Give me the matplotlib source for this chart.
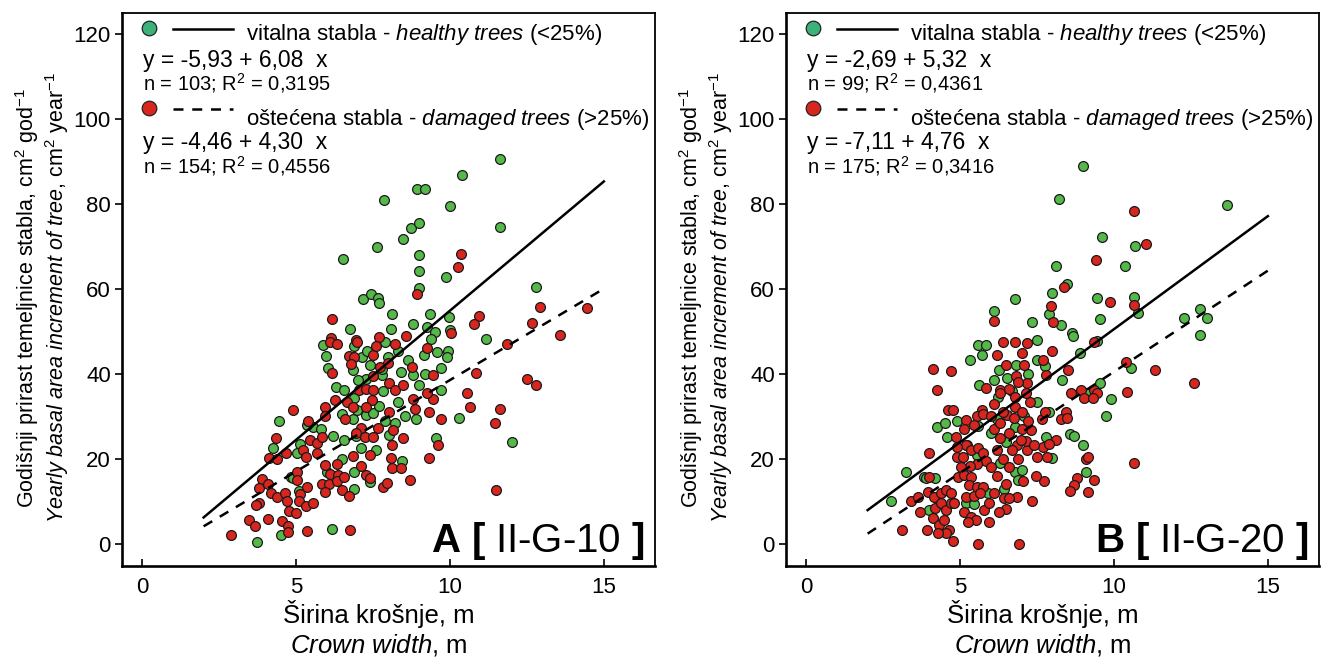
import numpy as np
import matplotlib.pyplot as plt

plt.rcParams['font.family'] = ['Liberation Sans', 'DejaVu Sans']
plt.rcParams['mathtext.fontset'] = 'custom'
plt.rcParams['mathtext.rm'] = 'Liberation Sans'
plt.rcParams['mathtext.it'] = 'Liberation Sans:italic'
plt.rcParams['mathtext.bf'] = 'Liberation Sans:bold'

# ---- data (crown width m, basal area increment cm2/yr) ----
a_healthy = [
    (11.62, 90.6), (10.4, 86.9), (8.94, 83.6), (9.19, 83.6), (10.0, 79.4), (8.72, 74.4),
    (9.0, 75.5), (8.48, 71.8), (11.62, 74.5), (9.0, 68.0), (9.0, 64.3), (9.86, 62.8),
    (9.0, 60.1), (12.79, 60.5), (9.34, 54.2), (9.98, 53.3), (8.81, 51.7), (9.24, 51.0),
    (9.5, 49.9), (10.0, 50.3), (11.17, 48.2), (9.4, 48.2), (7.86, 80.9), (7.64, 69.8),
    (6.54, 67.1), (7.19, 57.6), (7.45, 58.7), (7.67, 57.8), (7.69, 56.6), (8.11, 54.0),
    (6.75, 50.6), (8.08, 50.6), (5.89, 46.8), (5.97, 44.1), (6.03, 41.3), (7.15, 43.9),
    (6.86, 40.8), (6.88, 46.6), (6.3, 37.0), (6.56, 36.2), (6.89, 34.3), (7.81, 35.9),
    (7.78, 39.8), (7.27, 38.8), (7.8, 41.2), (4.44, 28.9), (5.56, 27.5), (6.84, 29.3),
    (6.97, 31.5), (7.29, 30.4), (7.51, 30.7), (6.95, 25.5), (8.01, 25.6), (5.13, 23.5),
    (5.02, 21.3), (6.56, 24.5), (6.48, 19.9), (6.0, 17.0), (6.88, 17.0), (4.83, 15.7),
    (5.1, 12.5), (4.51, 2.1), (3.74, 0.5), (6.16, 3.5), (10.3, 29.6), (12.0, 23.9),
    (9.55, 24.8), (9.72, 36.1), (8.55, 30.1), (8.9, 29.3), (9.72, 41.3), (8.81, 39.8),
    (8.65, 43.3), (9.16, 44.5), (9.57, 45.2), (9.95, 45.5), (9.9, 44.0), (8.43, 19.4),
    (4.26, 22.5), (5.35, 28.0), (4.91, 15.5), (7.3, 45.5), (7.9, 47.5), (8.3, 45.5),
    (8.0, 44.0), (7.4, 42.0), (8.4, 40.5), (7.0, 38.5), (8.3, 33.5), (7.7, 32.5),
    (9.0, 37.5), (9.2, 40.0), (8.2, 28.5), (7.9, 29.0), (7.1, 22.5), (7.6, 22.0),
    (6.2, 25.5), (5.8, 27.0), (6.5, 30.5), (7.4, 14.5), (6.9, 13.0),
]
a_damaged = [
    (8.94, 58.7), (10.36, 68.2), (10.25, 65.1), (12.92, 55.8), (14.46, 55.5), (10.93, 53.6),
    (10.77, 51.8), (12.66, 52.0), (10.05, 49.7), (8.57, 49.0), (13.57, 49.2), (6.17, 53.0),
    (6.13, 48.4), (7.69, 48.6), (6.94, 48.0), (6.1, 47.4), (6.34, 47.1), (6.16, 40.2),
    (6.71, 44.2), (6.9, 43.9), (6.78, 42.4), (6.97, 47.4), (6.26, 33.9), (6.65, 33.5),
    (7.06, 36.2), (7.29, 36.4), (7.51, 36.2), (7.47, 33.9), (8.03, 37.8), (7.51, 39.4),
    (7.73, 41.6), (8.21, 36.2), (8.0, 42.5), (7.5, 44.5), (7.6, 46.5), (8.2, 47.0),
    (4.89, 31.4), (5.94, 32.3), (5.38, 29.0), (5.94, 30.1), (6.6, 29.3), (6.86, 32.3),
    (7.29, 32.3), (8.03, 31.0), (7.67, 27.2), (7.1, 27.2), (6.95, 26.0), (7.23, 25.2),
    (7.49, 25.2), (8.16, 26.7), (8.11, 23.3), (4.35, 24.8), (5.45, 24.5), (5.69, 23.7),
    (5.67, 21.3), (5.84, 25.1), (5.24, 22.1), (5.32, 20.5), (4.11, 20.2), (4.39, 19.9),
    (4.68, 21.3), (6.84, 20.7), (7.4, 20.9), (6.32, 18.8), (5.93, 18.6), (6.1, 16.5),
    (6.36, 16.2), (7.12, 18.4), (7.27, 16.2), (7.42, 15.5), (8.12, 17.8), (8.08, 20.2),
    (5.02, 17.0), (5.02, 15.1), (3.89, 15.2), (3.81, 13.1), (4.1, 14.1), (4.18, 11.9),
    (4.37, 11.0), (4.64, 11.9), (4.72, 10.0), (5.35, 13.5), (5.13, 11.8), (5.09, 10.0),
    (5.32, 8.9), (5.54, 9.6), (5.83, 14.1), (6.08, 14.1), (6.32, 14.7), (6.49, 12.7),
    (6.71, 11.3), (6.56, 15.7), (5.94, 12.3), (7.84, 13.5), (7.95, 14.4), (3.81, 9.7),
    (3.7, 9.2), (4.78, 7.8), (5.0, 7.2), (3.48, 5.6), (3.67, 4.3), (4.08, 5.9),
    (4.53, 5.3), (4.75, 4.2), (4.75, 2.7), (2.88, 2.1), (5.35, 3.1), (6.75, 3.3),
    (10.86, 40.2), (12.49, 38.7), (12.79, 37.4), (10.54, 35.4), (10.65, 32.2), (11.64, 31.7),
    (11.45, 28.4), (9.7, 29.5), (9.61, 23.3), (9.31, 20.1), (8.7, 15.1), (11.51, 12.7),
    (9.46, 34.0), (9.24, 35.6), (8.81, 34.0), (8.85, 31.7), (9.31, 31.1), (9.46, 39.8),
    (8.76, 41.6), (9.24, 46.0), (11.86, 47.1), (8.48, 37.4), (8.46, 24.9), (8.4, 17.8),
]
b_healthy = [
    (9.0, 88.8), (8.21, 81.1), (13.66, 79.8), (9.6, 72.3), (10.67, 70.1), (8.11, 65.3),
    (10.35, 65.3), (8.0, 59.1), (8.48, 61.2), (6.78, 57.6), (9.44, 57.8), (10.65, 58.2),
    (10.78, 54.3), (7.89, 54.1), (8.27, 51.5), (7.35, 52.3), (9.55, 52.9), (12.27, 53.1),
    (12.79, 55.2), (13.03, 53.1), (6.1, 54.7), (12.81, 49.2), (10.54, 41.3), (9.55, 37.8),
    (9.89, 34.0), (9.73, 30.1), (9.1, 35.5), (8.57, 25.9), (8.7, 25.4), (9.0, 23.3),
    (9.08, 17.0), (6.43, 12.9), (6.78, 17.0), (8.0, 20.2), (7.78, 25.2), (7.08, 30.1),
    (7.51, 33.5), (7.51, 48.0), (7.49, 43.3), (7.75, 41.9), (6.81, 42.1), (6.27, 40.8),
    (6.54, 39.0), (6.24, 34.5), (8.65, 49.7), (8.68, 48.8), (9.45, 47.8), (2.75, 10.2),
    (3.24, 17.0), (4.24, 27.6), (4.5, 28.5), (4.91, 29.0), (4.59, 25.2), (3.83, 15.8),
    (3.9, 15.6), (4.2, 15.4), (3.99, 8.0), (5.32, 43.3), (5.58, 46.8), (5.83, 46.8),
    (5.72, 44.5), (5.62, 37.4), (5.6, 27.8), (5.24, 23.3), (5.56, 20.9), (5.19, 9.6),
    (5.45, 9.5), (6.1, 38.5), (6.5, 24.0), (6.8, 27.5), (6.3, 19.0), (7.0, 17.5),
    (6.0, 26.0), (6.7, 36.0), (7.2, 40.0), (6.2, 29.5), (6.9, 15.0), (5.9, 12.0),
    (8.3, 38.5), (8.9, 45.0), (7.9, 31.0),
]
b_damaged = [
    (10.65, 78.4), (11.03, 70.6), (9.43, 66.8), (8.38, 60.5), (9.87, 57.0), (10.65, 56.2),
    (7.96, 56.0), (8.03, 52.3), (6.1, 52.5), (12.6, 37.8), (11.35, 40.8), (10.38, 42.7),
    (10.41, 35.8), (10.65, 19.1), (9.35, 36.2), (9.46, 35.5), (8.94, 36.2), (9.03, 34.3),
    (8.59, 35.6), (9.32, 34.3), (8.43, 31.1), (8.27, 29.3), (8.46, 29.6), (9.08, 19.9),
    (9.15, 20.5), (8.81, 15.5), (8.7, 13.9), (8.57, 12.5), (9.35, 15.1), (9.16, 12.1),
    (7.35, 10.0), (6.92, 0.0), (7.73, 14.7), (7.46, 16.0), (7.06, 14.9), (6.86, 11.1),
    (6.48, 8.2), (6.27, 7.6), (6.43, 10.9), (6.6, 10.7), (7.7, 22.9), (7.83, 20.5),
    (7.51, 20.5), (7.19, 22.1), (7.13, 24.1), (7.4, 23.3), (8.11, 24.5), (7.9, 23.5),
    (6.86, 23.3), (6.97, 24.5), (7.3, 26.8), (7.67, 29.3), (7.75, 31.1), (6.54, 30.4),
    (6.75, 29.6), (7.27, 33.5), (6.8, 32.1), (6.78, 47.6), (7.19, 47.2), (8.0, 45.5),
    (7.7, 43.3), (7.08, 42.1), (8.51, 40.9), (7.78, 39.8), (6.81, 39.4), (6.29, 36.2),
    (6.59, 36.4), (7.19, 37.8), (7.13, 35.5), (9.35, 47.6), (3.13, 3.3), (3.4, 10.0),
    (3.64, 11.1), (3.7, 7.6), (3.94, 3.3), (3.99, 21.3), (4.13, 41.1), (4.7, 40.6),
    (4.26, 36.1), (4.61, 31.4), (4.78, 31.4), (5.19, 29.2), (4.86, 25.2), (4.0, 15.7),
    (3.96, 12.3), (4.16, 11.1), (4.37, 11.9), (4.54, 12.7), (4.7, 11.9), (4.18, 8.4),
    (4.37, 9.6), (4.54, 8.0), (4.7, 9.6), (4.13, 6.0), (4.32, 4.5), (4.48, 5.6),
    (4.64, 3.3), (4.54, 2.5), (4.78, 0.8), (4.3, 2.5), (5.6, 0.0), (4.81, 9.6),
    (5.83, 36.6), (5.72, 31.5), (5.55, 30.2), (5.75, 30.6), (5.45, 28.0), (5.13, 27.0),
    (5.19, 23.3), (4.89, 22.9), (4.91, 20.5), (5.1, 20.5), (5.37, 22.1), (5.6, 22.5),
    (5.75, 21.5), (5.83, 19.4), (5.55, 18.7), (5.33, 18.4), (5.02, 18.2), (4.94, 15.8),
    (5.14, 16.3), (5.36, 15.8), (5.29, 13.9), (5.56, 13.5), (5.76, 13.5), (5.19, 11.1),
    (5.45, 11.3), (5.65, 11.9), (5.13, 7.6), (5.35, 6.4), (5.51, 5.6), (5.26, 5.1),
    (5.78, 8.0), (5.94, 9.6), (5.94, 5.2), (6.0, 30.0), (6.1, 27.0), (6.3, 25.0),
    (6.2, 22.0), (6.4, 20.0), (6.0, 18.0), (6.2, 16.0), (6.5, 14.0), (6.1, 12.0),
    (6.3, 28.5), (6.6, 26.0), (6.7, 22.0), (6.9, 20.0), (6.6, 18.0), (7.0, 27.0),
    (7.2, 29.0), (6.4, 31.0), (6.1, 33.0), (6.3, 35.5), (6.8, 34.5), (7.0, 31.0),
    (6.9, 38.0), (6.5, 42.0), (6.2, 44.5), (7.0, 45.0), (6.4, 47.5),
]

# regression (intercept, slope) and printed statistics
a_fit_healthy = (-5.93, 6.08)
a_fit_damaged = (-4.46, 4.30)
b_fit_healthy = (-2.69, 5.32)
b_fit_damaged = (-7.11, 4.76)
a_stats = ['y = -5,93 + 6,08  x', 'n = 103; R$^2$ = 0,3195', 'y = -4,46 + 4,30  x', 'n = 154; R$^2$ = 0,4556']
b_stats = ['y = -2,69 + 5,32  x', 'n = 99; R$^2$ = 0,4361', 'y = -7,11 + 4,76  x', 'n = 175; R$^2$ = 0,3416']
x_fit = [2, 15]

GREEN = '#55b94a'
RED = '#d8261f'

fig = plt.figure(figsize=(13.28, 6.57), dpi=100)
ax_a = fig.add_axes([0.0919, 0.1385, 0.4013, 0.8417])
ax_b = fig.add_axes([0.5919, 0.1385, 0.4013, 0.8417])


def draw_panel(ax, healthy, damaged, fit_h, fit_d, stats, tag):
    h = np.array(healthy)
    d = np.array(damaged)
    ax.scatter(h[:, 0], h[:, 1], s=50, c=GREEN, edgecolors='#1a1a1a', linewidths=0.9, zorder=3)
    ax.scatter(d[:, 0], d[:, 1], s=50, c=RED, edgecolors='#1a1a1a', linewidths=0.9, zorder=3)
    xs = np.array(x_fit)
    ax.plot(xs, fit_h[0] + fit_h[1] * xs, color='black', lw=1.8, zorder=4)
    ax.plot(xs, fit_d[0] + fit_d[1] * xs, color='black', lw=1.8, ls=(0, (4, 3.5)), zorder=4)

    # legend block
    ax.scatter([0.23], [121.4], s=110, c='#3cb27a', edgecolors='#222', linewidths=0.9, zorder=5, clip_on=False)
    ax.plot([1.0, 2.95], [121.2, 121.2], color='black', lw=1.8)
    ax.text(3.38, 118.6, r'vitalna stabla - $\mathit{healthy\ trees}$ (<25%)', fontsize=16, va='baseline')
    ax.text(0.02, 112.2, stats[0], fontsize=16.5, va='baseline')
    ax.text(0.02, 106.7, stats[1], fontsize=14.5, va='baseline')
    ax.scatter([0.23], [102.6], s=110, c=RED, edgecolors='#222', linewidths=0.9, zorder=5)
    ax.plot([1.0, 2.95], [102.4, 102.4], color='black', lw=1.8, ls=(0, (4, 3.5)))
    ax.text(3.38, 98.6, r'oštećena stabla - $\mathit{damaged\ trees}$ (>25%)', fontsize=16, va='baseline')
    ax.text(0.02, 92.8, stats[2], fontsize=16.5, va='baseline')
    ax.text(0.02, 87.2, stats[3], fontsize=14.5, va='baseline')

    ax.text(16.33, -1.9, tag, fontsize=29, ha='right', va='baseline')

    ax.set_xlim(-0.65, 16.66)
    ax.set_ylim(-5.2, 124.9)
    ax.set_xticks([0, 5, 10, 15])
    ax.set_yticks(np.arange(0, 121, 20))
    ax.tick_params(axis='x', direction='in', length=5, width=1.2, labelsize=16, pad=8)
    ax.tick_params(axis='y', direction='out', length=5, width=1.2, labelsize=16, pad=3)
    for side in ['left', 'bottom']:
        ax.spines[side].set_linewidth(1.9)
    for side in ['top', 'right']:
        ax.spines[side].set_linewidth(1.3)

    ax.text(-0.178, 0.485, r'Godišnji prirast temeljnice stabla, cm$^2$ god$^{-1}$',
            transform=ax.transAxes, rotation=90, ha='center', va='center', fontsize=15.5)
    ax.text(-0.122, 0.485, r'$\mathit{Yearly\ basal\ area\ increment\ of\ tree}$, cm$^2$ year$^{-1}$',
            transform=ax.transAxes, rotation=90, ha='center', va='center', fontsize=15.5)
    ax.text(0.482, -0.103, 'Širina krošnje, m', transform=ax.transAxes, ha='center',
            va='baseline', fontsize=18.5)
    ax.text(0.482, -0.157, r'$\mathit{Crown\ width}$, m', transform=ax.transAxes, ha='center',
            va='baseline', fontsize=18.5)


draw_panel(ax_a, a_healthy, a_damaged, a_fit_healthy, a_fit_damaged, a_stats,
           r'$\mathbf{A\ [}$ II-G-10 $\mathbf{]}$')
draw_panel(ax_b, b_healthy, b_damaged, b_fit_healthy, b_fit_damaged, b_stats,
           r'$\mathbf{B\ [}$ II-G-20 $\mathbf{]}$')

fig.savefig('out.png', dpi=100)
